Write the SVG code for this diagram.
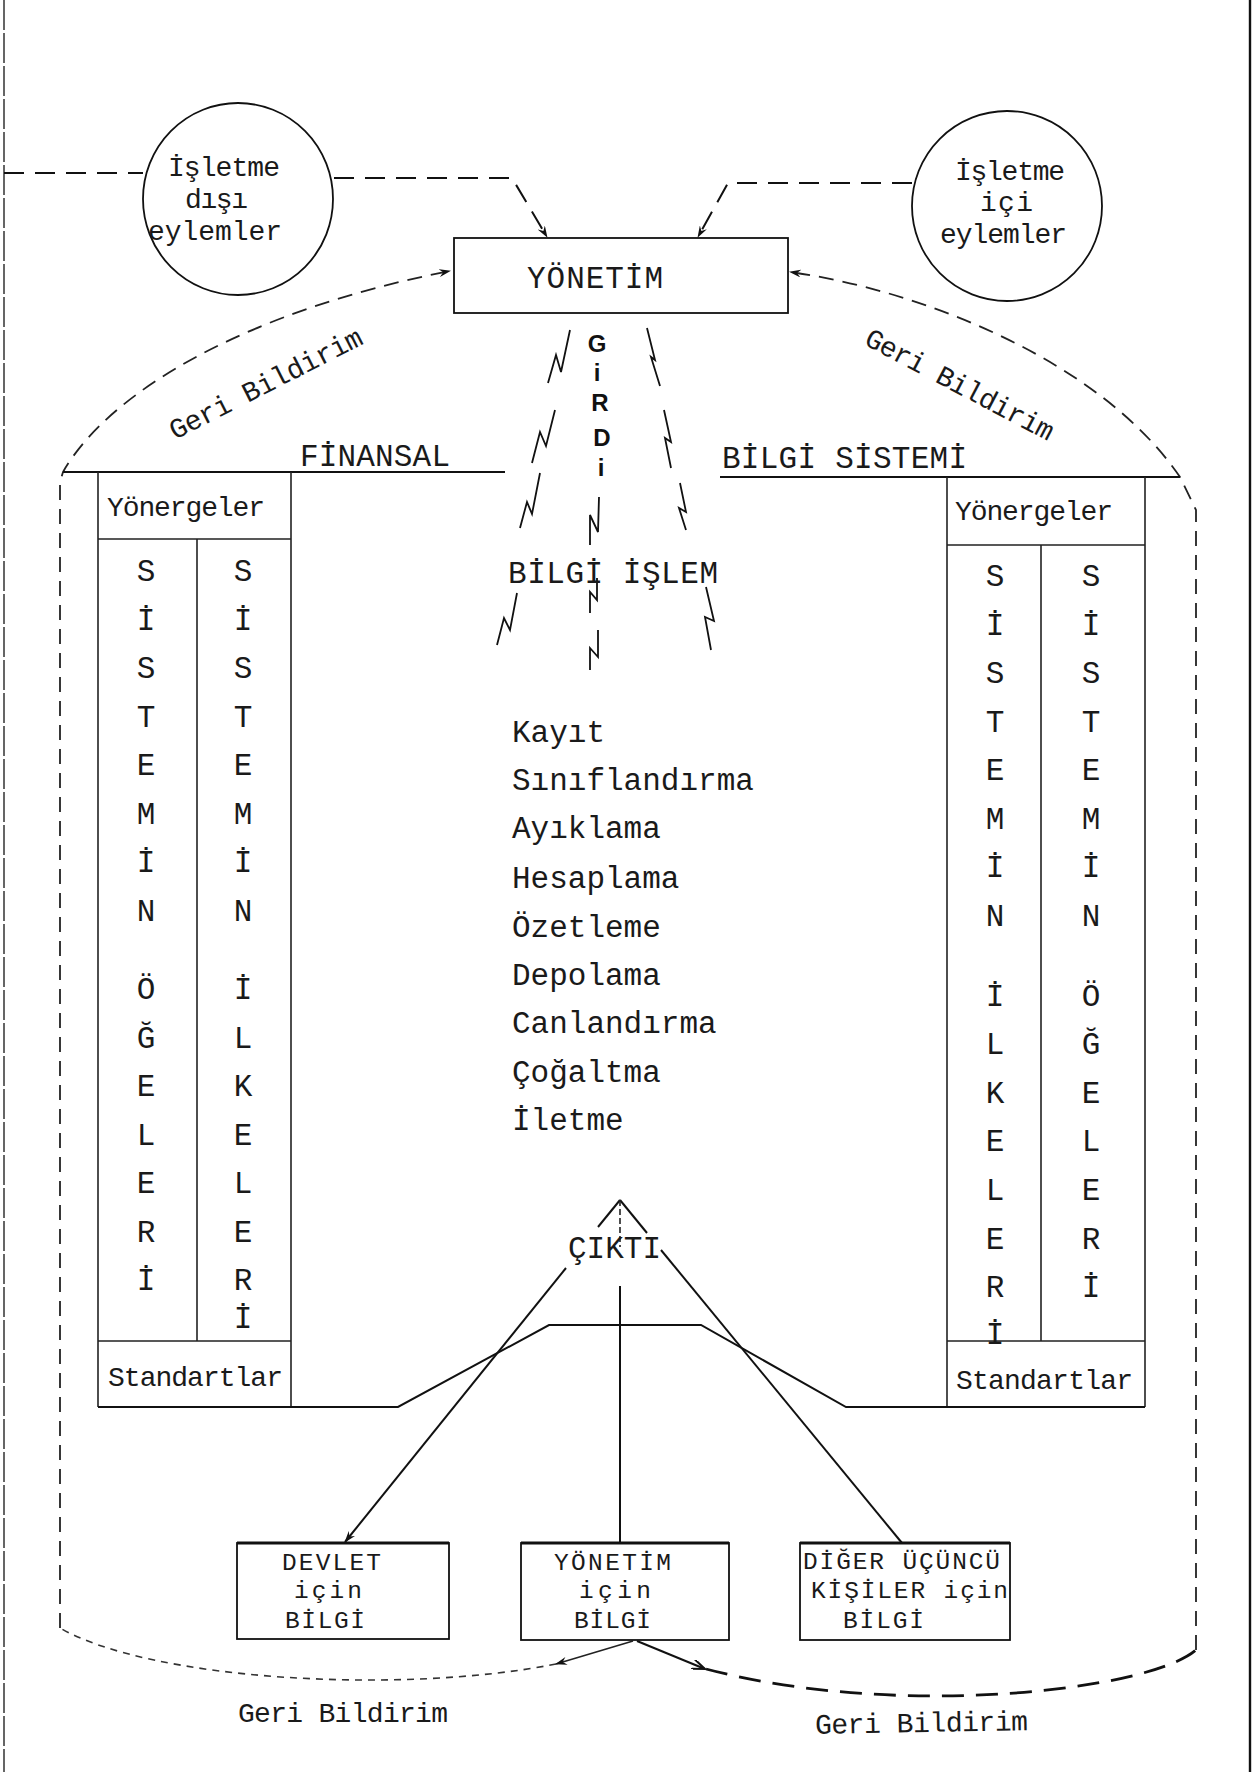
<svg xmlns="http://www.w3.org/2000/svg" width="1259" height="1772" viewBox="0 0 1259 1772">
<defs>
<style>
.tw{font-family:"Liberation Mono","Courier New",monospace;fill:#1a1a1a;}
.f31{font-size:31px;}
.f28{font-size:28px;}
.f24{font-size:24.5px;}
.hand{font-family:"Liberation Sans",Arial,sans-serif;font-weight:bold;font-size:24px;fill:#111;text-anchor:middle;}
.mid{text-anchor:middle;}
.ln{fill:none;stroke:#111;stroke-width:2;}
.thin{fill:none;stroke:#222;stroke-width:1.6;}
.dash{fill:none;stroke:#111;stroke-width:2;stroke-dasharray:20 11;}
.fb{fill:none;stroke:#222;stroke-width:1.8;stroke-dasharray:15 9;}
.fine{fill:none;stroke:#333;stroke-width:1.6;stroke-dasharray:7 6;}
.bold{fill:none;stroke:#111;stroke-width:2.8;stroke-dasharray:22 12;}
.bolt{fill:none;stroke:#111;stroke-width:1.8;stroke-linejoin:miter;}
.shape{fill:none;stroke:#111;stroke-width:1.8;}
</style>
<marker id="arr" viewBox="0 0 12 8" refX="11" refY="4" markerWidth="12" markerHeight="8" markerUnits="userSpaceOnUse" orient="auto">
<path d="M0,0 L12,4 L0,8 L4,4 z" fill="#111"/>
</marker>
<marker id="arrV" viewBox="0 0 14 10" refX="13" refY="5" markerWidth="14" markerHeight="10" markerUnits="userSpaceOnUse" orient="auto">
<path d="M0,0 L13,5 L0,10" fill="none" stroke="#111" stroke-width="2"/>
</marker>
</defs>
<rect width="1259" height="1772" fill="#fff"/>

<g id="frame">
<line x1="4" y1="0" x2="4" y2="1772" stroke="#333" stroke-width="1.5" stroke-dasharray="30 3"/>
<line x1="1250" y1="0" x2="1250" y2="1772" stroke="#111" stroke-width="2.4"/>
</g>

<g id="connectors">
<path class="dash" d="M4 173 L143 173"/>
<path class="dash" d="M334 178 L512 178 L547 237" marker-end="url(#arr)"/>
<path class="dash" d="M912 183 L728 183 L698 237" marker-end="url(#arr)"/>
<path class="fb" d="M60 1628 L60 482 L63 472 C110 390 250 310 450 271" marker-end="url(#arr)"/>
<path class="fb" d="M1196 1650 L1196 510 L1180 477 C1100 360 920 290 790 272" marker-end="url(#arr)"/>
<path class="fine" d="M556 1664 C400 1695 150 1680 60 1628"/>
<path class="bold" d="M706 1669 C900 1720 1150 1690 1196 1650"/>
<path class="ln" d="M620 1200 L598 1227"/>
<path class="ln" d="M566 1268 L345 1542" marker-end="url(#arr)"/>
<path class="ln" d="M620 1200 L647 1233"/>
<path class="ln" d="M661 1250 L902 1543"/>
<path class="thin" d="M620 1200 L620 1247" stroke-dasharray="6 3"/>
<path class="ln" d="M620 1286 L620 1543"/>
<path class="thin" d="M633 1641 L556 1664" marker-end="url(#arr)"/>
<path class="ln" d="M637 1641 L705 1669" stroke-width="2.6" marker-end="url(#arrV)"/>
</g>

<g id="girdi-bolts">
<polyline class="bolt" points="548,383 556,355 561,372 570,330"/>
<polyline class="bolt" points="532,463 540,432 546,446 555,410"/>
<polyline class="bolt" points="520,528 527,502 532,514 540,473"/>
<polyline class="bolt" points="497,645 504,618 510,630 517,593"/>
<polyline class="bolt" points="590,545 590,515 598,532 599,497"/>
<polyline class="bolt" points="590,613 590,592 597,600 597,578"/>
<polyline class="bolt" points="590,670 590,648 598,657 598,630"/>
<polyline class="bolt" points="647,328 655,360 651,357 660,386"/>
<polyline class="bolt" points="664,410 671,442 665,438 671,468"/>
<polyline class="bolt" points="680,483 686,512 679,508 686,530"/>
<polyline class="bolt" points="706,587 714,621 705,617 711,650"/>
<text class="hand" x="597" y="352">G</text>
<text class="hand" x="597" y="381">i</text>
<text class="hand" x="600" y="411">R</text>
<text class="hand" x="602" y="446">D</text>
<text class="hand" x="601" y="476">i</text>
</g>

<g id="node-isletme-disi">
<ellipse class="shape" cx="238" cy="199" rx="95" ry="96"/>
<text class="tw f28" x="168" y="176" textLength="112">İşletme</text>
<text class="tw f28" x="185" y="208" textLength="63">dışı</text>
<text class="tw f28" x="148" y="240" textLength="134">eylemler</text>
</g>

<g id="node-isletme-ici">
<ellipse class="shape" cx="1007" cy="206" rx="95" ry="95"/>
<text class="tw f28" x="955" y="180" textLength="110">İşletme</text>
<text class="tw f28" x="980" y="211" textLength="53">içi</text>
<text class="tw f28" x="940" y="243" textLength="127">eylemler</text>
</g>

<g id="node-yonetim">
<rect class="shape" x="454" y="238" width="334" height="75"/>
<text class="tw f31" x="527" y="288" textLength="136">YÖNETİM</text>
</g>

<g id="label-geri-bildirim-top">
<text class="tw f28" transform="translate(175,440) rotate(-27)" textLength="213">Geri Bildirim</text>
<text class="tw f28" transform="translate(863,344) rotate(27.7)" textLength="209">Geri Bildirim</text>
</g>

<g id="node-finansal">
<path class="ln" d="M63 472 L505 472"/>
<text class="tw f31" x="300" y="466" textLength="150">FİNANSAL</text>
<path class="thin" d="M98 472 L98 1407 M291 472 L291 1407 M98 539 L291 539 M197 539 L197 1341 M98 1341 L291 1341"/>
<text class="tw f28" x="107" y="516" textLength="158">Yönergeler</text>
<text class="tw f28" x="108" y="1386" textLength="175">Standartlar</text>
<g class="tw f31 mid">
<text x="146" y="581">S</text><text x="146" y="630">İ</text><text x="146" y="678">S</text><text x="146" y="727">T</text>
<text x="146" y="775">E</text><text x="146" y="824">M</text><text x="146" y="872">İ</text><text x="146" y="921">N</text>
<text x="146" y="999">Ö</text><text x="146" y="1048">Ğ</text><text x="146" y="1096">E</text><text x="146" y="1145">L</text>
<text x="146" y="1193">E</text><text x="146" y="1242">R</text><text x="146" y="1290">İ</text>
<text x="243" y="581">S</text><text x="243" y="630">İ</text><text x="243" y="678">S</text><text x="243" y="727">T</text>
<text x="243" y="775">E</text><text x="243" y="824">M</text><text x="243" y="872">İ</text><text x="243" y="921">N</text>
<text x="243" y="999">İ</text><text x="243" y="1048">L</text><text x="243" y="1096">K</text><text x="243" y="1145">E</text>
<text x="243" y="1193">L</text><text x="243" y="1242">E</text><text x="243" y="1290">R</text><text x="243" y="1328">İ</text>
</g>
</g>

<g id="node-bilgi-sistemi">
<path class="ln" d="M720 477 L1180 477"/>
<text class="tw f31" x="722" y="468" textLength="245">BİLGİ SİSTEMİ</text>
<path class="thin" d="M947 477 L947 1407 M1145 477 L1145 1407 M947 545 L1145 545 M1041 545 L1041 1341 M947 1341 L1145 1341"/>
<text class="tw f28" x="955" y="520" textLength="158">Yönergeler</text>
<text class="tw f28" x="956" y="1389" textLength="177">Standartlar</text>
<g class="tw f31 mid">
<text x="995" y="586">S</text><text x="995" y="635">İ</text><text x="995" y="683">S</text><text x="995" y="732">T</text>
<text x="995" y="780">E</text><text x="995" y="829">M</text><text x="995" y="877">İ</text><text x="995" y="926">N</text>
<text x="995" y="1006">İ</text><text x="995" y="1054">L</text><text x="995" y="1103">K</text><text x="995" y="1151">E</text>
<text x="995" y="1200">L</text><text x="995" y="1249">E</text><text x="995" y="1297">R</text><text x="995" y="1344">İ</text>
<text x="1091" y="586">S</text><text x="1091" y="635">İ</text><text x="1091" y="683">S</text><text x="1091" y="732">T</text>
<text x="1091" y="780">E</text><text x="1091" y="829">M</text><text x="1091" y="877">İ</text><text x="1091" y="926">N</text>
<text x="1091" y="1006">Ö</text><text x="1091" y="1054">Ğ</text><text x="1091" y="1103">E</text><text x="1091" y="1151">L</text>
<text x="1091" y="1200">E</text><text x="1091" y="1249">R</text><text x="1091" y="1297">İ</text>
</g>
</g>

<g id="base-line">
<path class="ln" d="M98 1407 L398 1407 L549 1325 L701 1325 L846 1407 L1145 1407"/>
</g>

<g id="node-bilgi-islem">
<text class="tw f31" x="508" y="583" textLength="210">BİLGİ İŞLEM</text>
<g class="tw f31">
<text x="512" y="742">Kayıt</text>
<text x="512" y="790">Sınıflandırma</text>
<text x="512" y="838">Ayıklama</text>
<text x="512" y="888">Hesaplama</text>
<text x="512" y="937">Özetleme</text>
<text x="512" y="985">Depolama</text>
<text x="512" y="1033">Canlandırma</text>
<text x="512" y="1082">Çoğaltma</text>
<text x="512" y="1130">İletme</text>
</g>
</g>

<g id="node-cikti">
<text class="tw f31" x="568" y="1258" textLength="93">ÇIKTI</text>
</g>

<g id="node-devlet">
<rect class="shape" x="237" y="1543" width="212" height="96"/>
<line x1="237" y1="1543" x2="449" y2="1543" stroke="#111" stroke-width="3"/>
<text class="tw f24" x="282" y="1570" textLength="99">DEVLET</text>
<text class="tw f24" x="294" y="1598" textLength="68">için</text>
<text class="tw f24" x="285" y="1628" textLength="80">BİLGİ</text>
</g>

<g id="node-yonetim-bilgi">
<rect class="shape" x="521" y="1543" width="208" height="97"/>
<line x1="521" y1="1543" x2="729" y2="1543" stroke="#111" stroke-width="3"/>
<text class="tw f24" x="554" y="1570" textLength="117">YÖNETİM</text>
<text class="tw f24" x="579" y="1598" textLength="72">için</text>
<text class="tw f24" x="574" y="1628" textLength="77">BİLGİ</text>
</g>

<g id="node-diger">
<rect class="shape" x="800" y="1543" width="210" height="97"/>
<line x1="800" y1="1543" x2="1010" y2="1543" stroke="#111" stroke-width="3"/>
<text class="tw f24" x="803" y="1569" textLength="197">DİĞER ÜÇÜNCÜ</text>
<text class="tw f24" x="811" y="1598" textLength="197">KİŞİLER için</text>
<text class="tw f24" x="843" y="1628" textLength="81">BİLGİ</text>
</g>

<g id="label-geri-bildirim-bottom">
<text class="tw f28" x="238" y="1722" textLength="210">Geri Bildirim</text>
<text class="tw f28" x="815" y="1732" textLength="213" transform="rotate(-1 921 1725)">Geri Bildirim</text>
</g>
</svg>
